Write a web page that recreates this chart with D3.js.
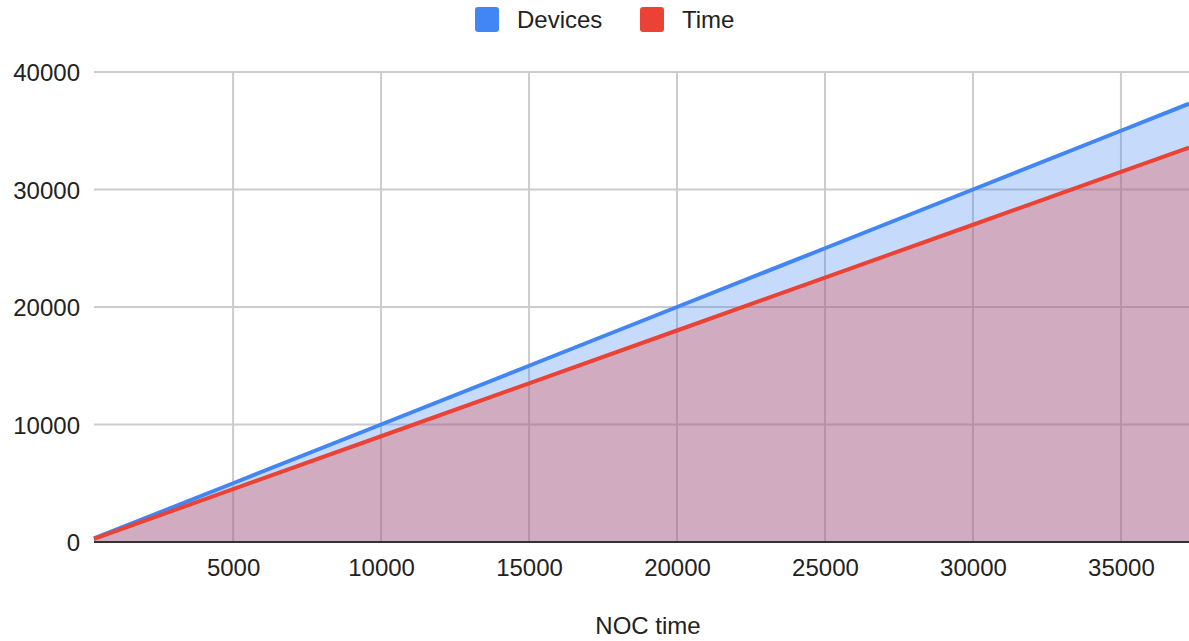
<!DOCTYPE html>
<html><head><meta charset="utf-8">
<script src="https://cdn.jsdelivr.net/npm/d3@7"></script>
<style>body{margin:0;background:#fff;} svg{display:block;font-family:"Liberation Sans",Arial,sans-serif;}</style>
</head><body>
<svg id="c" width="1189" height="641"></svg>
<script>
const nocTime = [300, 5000, 10000, 15000, 20000, 25000, 30000, 35000, 37300];
const devices = [300, 5000, 10000, 15000, 20000, 25000, 30000, 35000, 37300];
const timeVals = [270, 4500, 9000, 13500, 18000, 22500, 27000, 31500, 33570];
const xTicks = [5000, 10000, 15000, 20000, 25000, 30000, 35000];
const yTicks = [0, 10000, 20000, 30000, 40000];
const seriesNames = ["Devices", "Time"];
const colors = ["#4285f4", "#ea4335"];
const FONT = '"Liberation Sans",Arial,sans-serif';

const svg = d3.select("#c");
const x = d3.scaleLinear().domain([300, 37300]).range([94, 1189]);
const y = d3.scaleLinear().domain([0, 40000]).range([542, 72]);

const g = svg.append("g");
g.selectAll(".hg").data(yTicks.filter(d => d > 0)).join("line")
  .attr("x1", 94).attr("x2", 1189).attr("y1", d => y(d)).attr("y2", d => y(d))
  .attr("stroke", "#cccccc").attr("stroke-width", 2);
g.selectAll(".vg").data(xTicks).join("line")
  .attr("x1", d => x(d)).attr("x2", d => x(d)).attr("y1", y(40000)).attr("y2", y(0))
  .attr("stroke", "#cccccc").attr("stroke-width", 2);

const data = nocTime.map((v, i) => ({x: v, d: devices[i], t: timeVals[i]}));
const areaD = d3.area().x(d => x(d.x)).y0(y(0)).y1(d => y(d.d));
const areaT = d3.area().x(d => x(d.x)).y0(y(0)).y1(d => y(d.t));
g.append("path").datum(data).attr("d", areaD).attr("fill", colors[0]).attr("fill-opacity", 0.3);
g.append("path").datum(data).attr("d", areaT).attr("fill", colors[1]).attr("fill-opacity", 0.3);

g.append("line").attr("x1", 94).attr("x2", 1189).attr("y1", y(0)).attr("y2", y(0))
  .attr("stroke", "#333").attr("stroke-width", 2);

const lineD = d3.line().x(d => x(d.x)).y(d => y(d.d));
const lineT = d3.line().x(d => x(d.x)).y(d => y(d.t));
g.append("path").datum(data).attr("d", lineD).attr("fill", "none").attr("stroke", colors[0]).attr("stroke-width", 4);
g.append("path").datum(data).attr("d", lineT).attr("fill", "none").attr("stroke", colors[1]).attr("stroke-width", 4);

const yAxis = d3.axisLeft(y).tickValues(yTicks).tickSize(0).tickPadding(0).tickFormat(d3.format("d"));
const ya = svg.append("g").attr("transform", "translate(80,0)").call(yAxis);
ya.select(".domain").remove();
ya.selectAll("text").attr("font-size", 24).attr("fill", "#222").attr("font-family", FONT).attr("dy", "0.36em");

const xAxis = d3.axisBottom(x).tickValues(xTicks).tickSize(0).tickPadding(0).tickFormat(d3.format("d"));
const xa = svg.append("g").attr("transform", "translate(0,576)").call(xAxis);
xa.select(".domain").remove();
xa.selectAll("text").attr("font-size", 24).attr("fill", "#222").attr("font-family", FONT).attr("dy", 0).attr("y", 0);

svg.append("text").attr("x", 648).attr("y", 634).attr("text-anchor", "middle")
  .attr("font-size", 24).attr("fill", "#222").attr("font-family", FONT).text("NOC time");

const leg = svg.append("g");
const legX = [475, 640];
seriesNames.forEach((n, i) => {
  leg.append("rect").attr("x", legX[i]).attr("y", 7).attr("width", 24).attr("height", 25).attr("rx", 3).attr("fill", colors[i]);
  leg.append("text").attr("x", legX[i] + 42).attr("y", 28).attr("font-size", 24).attr("fill", "#222").attr("font-family", FONT).text(n);
});
</script>
</body></html>
